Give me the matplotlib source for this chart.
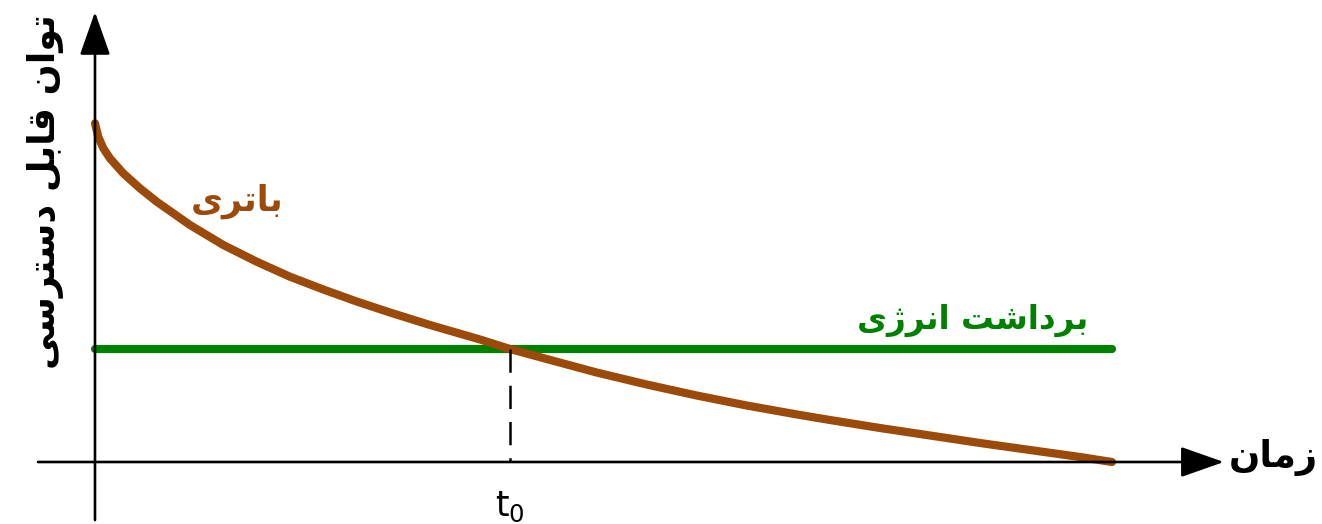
import matplotlib
matplotlib.use("Agg")
import matplotlib.pyplot as plt

# battery output over time (arbitrary units)
t_batt = [0.000, 0.032, 0.082, 0.147, 0.278, 0.442, 0.607, 0.770, 0.934,
          1.262, 1.590, 1.917, 2.245, 2.573, 2.901, 3.294, 3.786, 4.081,
          4.441, 4.933, 5.425, 5.916, 6.408, 6.932, 7.227, 7.719, 8.211,
          8.702, 9.194, 9.685, 10.000]
p_batt = [3.387, 3.253, 3.137, 3.037, 2.887, 2.737, 2.603, 2.487, 2.370,
          2.170, 2.003, 1.853, 1.725, 1.605, 1.495, 1.370, 1.225, 1.130,
          1.030, 0.895, 0.775, 0.665, 0.565, 0.470, 0.420, 0.340, 0.265,
          0.190, 0.120, 0.050, 0.000]

# constant harvested power
t_harv = [0.0, 10.0]
p_harv = [1.13, 1.13]

t0 = 4.081

# labels, already shaped (presentation forms, visual order)
lbl_batt = "\uFBFC\uFEAE\uFE97\uFE8E\uFE91"                      # باتری
lbl_harv = ("\uFBFC\uFB8A\uFEAE\uFEE7\uFE8D "
            "\uFE96\uFEB7\uFE8D\uFEA9\uFEAE\uFE91")              # برداشت انرژی
lbl_time = "\uFEE5\uFE8E\uFEE3\uFEAF"                            # زمان
lbl_power = ("\uFBFD\uFEB3\uFEAE\uFE98\uFEB3\uFEA9 "
             "\uFEDE\uFE91\uFE8E\uFED7 "
             "\uFEE5\uFE8D\uFEEE\uFE97")                          # توان قابل دسترسی

brown = '#9b4a0a'
green = '#008000'

plt.rcParams['mathtext.default'] = 'regular'

fig = plt.figure(figsize=(13.22, 5.24), dpi=100)
ax = fig.add_axes([0, 0, 1, 1])
ax.set_xlim(-0.934, 12.065)
ax.set_ylim(-0.62, 4.62)
ax.axis('off')

# axes with arrow heads
arr = dict(arrowstyle='-|>,head_length=2.7,head_width=0.95', color='black',
           lw=1.9, mutation_scale=10, shrinkA=0, shrinkB=0)
ax.annotate('', xy=(0, 4.50), xytext=(0, -0.58), arrowprops=arr)
ax.annotate('', xy=(11.10, 0), xytext=(-0.56, 0), arrowprops=arr)

ax.plot(t_harv, p_harv, color=green, lw=5.9, solid_capstyle='round')
ax.plot(t_batt, p_batt, color=brown, lw=5.9, solid_capstyle='round',
        solid_joinstyle='round')
ax.plot([t0, t0], [p_harv[0], 0], color='black', lw=1.8,
        linestyle=(0, (9.3, 5.2)))

ax.text(1.40, 2.61, lbl_batt, color=brown, fontsize=25, fontweight='bold',
        ha='center', va='center')
ax.text(8.63, 1.42, lbl_harv, color=green, fontsize=23.5, fontweight='bold',
        ha='center', va='center')
ax.text(11.15, 0.05, lbl_time, color='black', fontsize=26.5,
        fontweight='bold', ha='left', va='center')
ax.text(-0.49, 2.70, lbl_power, color='black', fontsize=26.3,
        fontweight='bold', ha='center', va='center', rotation=90)

ax.text(t0, -0.45, 't$_0$', color='black', fontsize=25, ha='center',
        va='center')

fig.savefig('out.png', dpi=100, facecolor='white')
